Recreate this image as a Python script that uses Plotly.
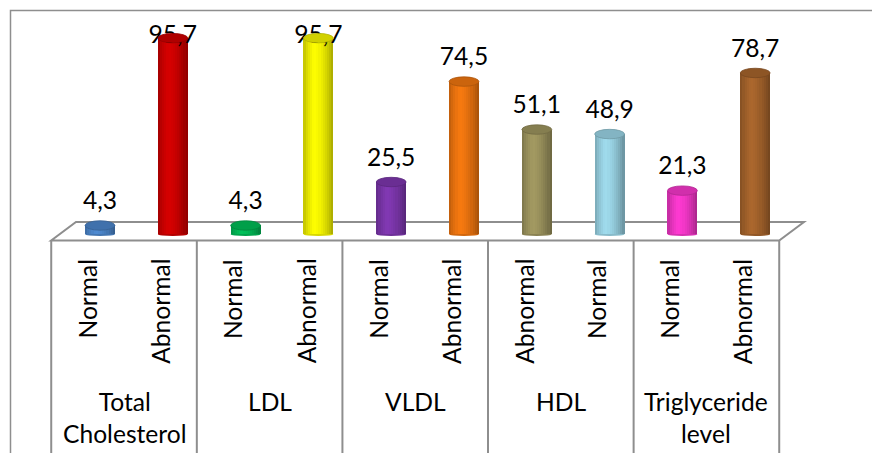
import plotly.graph_objects as go

# ---------------- data ----------------
groups = ["Total<br>Cholesterol", "LDL", "VLDL", "HDL", "Triglyceride<br>level"]
categories = ["Normal", "Abnormal", "Normal", "Abnormal", "Normal", "Abnormal",
              "Abnormal", "Normal", "Normal", "Abnormal"]
values = [4.3, 95.7, 4.3, 95.7, 25.5, 74.5, 51.1, 48.9, 21.3, 78.7]
colors = ["#4f8bd2", "#d60000", "#00c25a", "#ffff00", "#8239b4",
          "#f87a10", "#a39a62", "#a0dcee", "#ff3ad2", "#ac682e"]

# ---------------- geometry (styling) ----------------
W, H = 872, 445       # page adds an 8px body margin
BAR_W = 0.41
CAP_H = 2.3
BOT_H = 0.8
DEPTH_X = 0.17
FLOOR_FRONT = -3.0
FLOOR_BACK = 6.0
LABEL_OFF = 11.0
LABEL_MAX = 96.3
FONT = "Lato"
FS = 24.6
GRAY = "#8e8e8e"

n = len(values)
xs = list(range(n))


def shade(hexcol, f):
    h = hexcol.lstrip("#")
    r, g, b = (int(h[i:i + 2], 16) for i in (0, 2, 4))
    return "rgb({},{},{})".format(int(r * f), int(g * f), int(b * f))


def factor(t):
    if t < 0.35:
        return 0.72 + (1.0 - 0.72) * (t / 0.35) ** 0.6
    return 1.0 - (1.0 - 0.66) * ((t - 0.35) / 0.65) ** 1.6


fig = go.Figure()

NS = 14
sw = BAR_W / NS
for k in range(NS):
    t = (k + 0.5) / NS
    fig.add_trace(go.Bar(
        x=xs, y=values,
        offset=-BAR_W / 2 + k * sw, width=sw * 1.08,
        marker=dict(color=[shade(c, factor(t)) for c in colors], line=dict(width=0)),
        hoverinfo="skip", showlegend=False,
    ))

shapes = []
fx0, fx1 = -0.5 - DEPTH_X, n - 0.5 - DEPTH_X
bx0, bx1 = -0.5 + DEPTH_X, n - 0.5 + DEPTH_X
shapes.append(dict(
    type="path", xref="x", yref="y", layer="below",
    path=f"M {fx0},{FLOOR_FRONT} L {fx1},{FLOOR_FRONT} L {bx1},{FLOOR_BACK} L {bx0},{FLOOR_BACK} Z",
    line=dict(color=GRAY, width=2), fillcolor="white"))
for g in range(len(groups) + 1):
    xg = fx0 + 2 * g
    shapes.append(dict(type="line", xref="x", yref="y", layer="below",
                       x0=xg, x1=xg, y0=FLOOR_FRONT, y1=-120,
                       line=dict(color=GRAY, width=2)))
for i, c in enumerate(colors):
    shapes.append(dict(type="circle", xref="x", yref="y", layer="below",
                       x0=i - BAR_W / 2, x1=i + BAR_W / 2, y0=-BOT_H, y1=BOT_H,
                       fillcolor=shade(c, 0.85), line=dict(width=0)))
for i, (v, c) in enumerate(zip(values, colors)):
    shapes.append(dict(type="circle", xref="x", yref="y", layer="above",
                       x0=i - BAR_W / 2, x1=i + BAR_W / 2, y0=v - CAP_H, y1=v + CAP_H,
                       fillcolor=shade(c, 0.82), line=dict(color=shade(c, 0.7), width=0.8)))
shapes.append(dict(type="rect", xref="paper", yref="paper",
                   x0=2.5 / W, x1=1.05, y0=-0.05, y1=1 - 2.5 / H,
                   line=dict(color=GRAY, width=1.5), fillcolor="rgba(0,0,0,0)"))

label_y = [min(v + LABEL_OFF, LABEL_MAX) for v in values]
fig.add_trace(go.Scatter(
    x=xs, y=label_y, mode="text",
    text=[f"{v:.1f}".replace(".", ",") for v in values],
    textposition="middle center",
    textfont=dict(family=FONT, size=FS, color="black"),
    hoverinfo="skip", showlegend=False, cliponaxis=False,
))

annotations = []
for i, cat in enumerate(categories):
    annotations.append(dict(
        x=i - DEPTH_X, y=-11.0, xref="x", yref="y", text=cat, textangle=-90,
        showarrow=False, xanchor="center", yanchor="top",
        font=dict(family=FONT, size=FS, color="black")))
for g, name in enumerate(groups):
    annotations.append(dict(
        x=2 * g + 0.5 - DEPTH_X, y=-73.5, xref="x", yref="y", text=name,
        showarrow=False, xanchor="center", yanchor="top",
        font=dict(family=FONT, size=FS, color="black")))

fig.update_layout(
    width=W, height=H,
    margin=dict(l=0, r=0, t=0, b=0),
    paper_bgcolor="white", plot_bgcolor="white",
    barmode="overlay", bargap=0,
    shapes=shapes, annotations=annotations,
    xaxis=dict(range=[-92 / 72.8, 780 / 72.8], visible=False, fixedrange=True),
    yaxis=dict(range=[(226.3 - 445) / 2.05, 226.3 / 2.05], visible=False, fixedrange=True),
    showlegend=False,
)

fig.write_html("out.html")
